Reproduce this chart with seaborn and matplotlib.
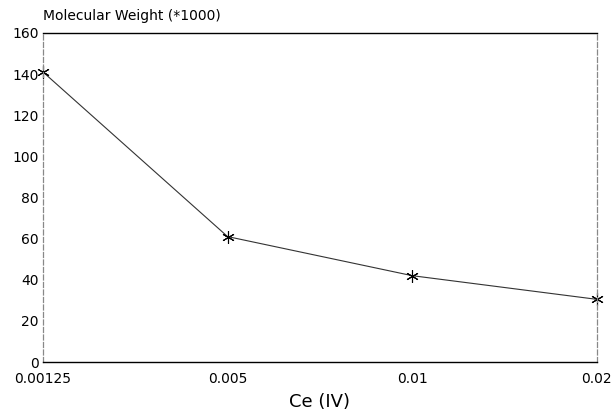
import matplotlib
matplotlib.use("Agg")
import matplotlib.pyplot as plt
import seaborn as sns
import pandas as pd

# Ce(IV) concentration (equally spaced categories) vs molecular weight (*1000)
ce_conc = ["0.00125", "0.005", "0.01", "0.02"]
mol_weight = [141, 61, 42, 30.5]
y_ticks = [0, 20, 40, 60, 80, 100, 120, 140, 160]

df = pd.DataFrame({"ce": ce_conc, "mw": mol_weight})

sns.set_style("white")
plt.rcParams["font.family"] = ["DejaVu Sans"]

fig = plt.figure(figsize=(6.14, 4.11), dpi=100)
ax = fig.add_axes([0.070, 0.119, 0.902, 0.801])

sns.lineplot(data=df, x="ce", y="mw", ax=ax, color="#333333", linewidth=0.8,
             marker=(6, 2, 0), markersize=9, markeredgecolor="black",
             markeredgewidth=0.8, sort=False, clip_on=False)

ax.set_xlim(0, len(ce_conc) - 1)
ax.set_ylim(0, 160)
ax.set_yticks(y_ticks)
ax.set_xticks(range(len(ce_conc)))
ax.set_xticklabels(ce_conc)
ax.tick_params(direction="in", length=4, width=0.8, labelsize=10, colors="black")
ax.tick_params(axis="x", pad=7)
ax.tick_params(axis="y", pad=3)

for side in ["top", "bottom"]:
    ax.spines[side].set_color("black")
    ax.spines[side].set_linewidth(1.0)
for side in ["left", "right"]:
    ax.spines[side].set_color("#888888")
    ax.spines[side].set_linestyle((0, (4, 2)))
    ax.spines[side].set_linewidth(0.9)

ax.set_xlabel("Ce (IV)", fontsize=13, labelpad=5, color="black")
ax.set_ylabel("")
fig.text(0.070, 0.945, "Molecular Weight (*1000)", fontsize=10, ha="left",
         va="bottom", color="black")

fig.savefig("out.png", dpi=100)
